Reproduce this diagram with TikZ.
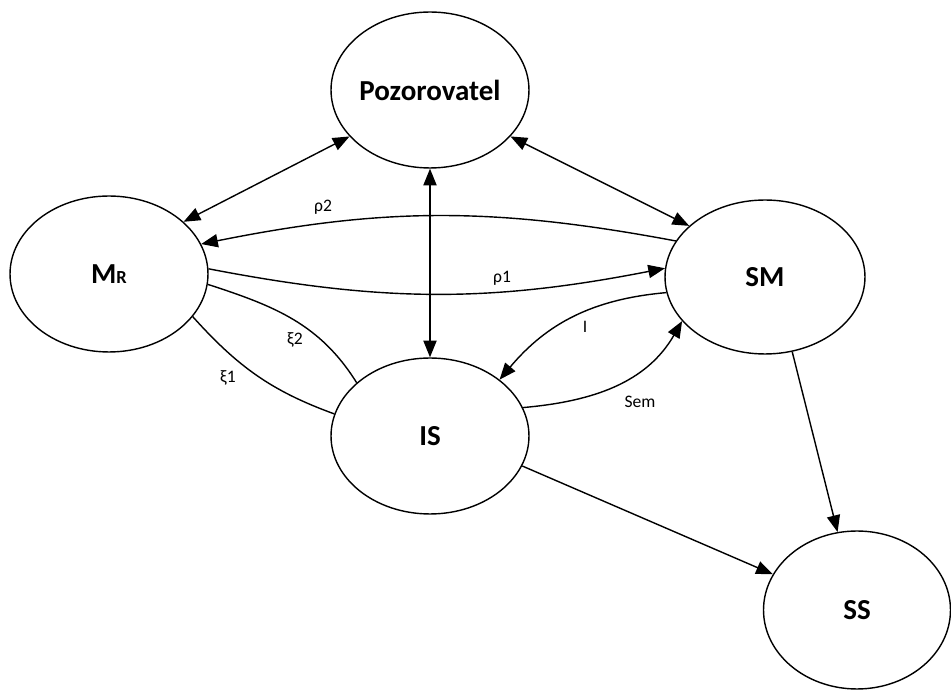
\documentclass[tikz,border=0pt]{standalone}
\usepackage{fontspec}
\setmainfont{Carlito}
\usetikzlibrary{arrows.meta, shapes.geometric}
\tikzset{
  state/.style={draw, ellipse, line width=0.8pt, inner sep=0pt,
    minimum width=3.96cm, minimum height=3.12cm},
  statetext/.style={font=\bfseries\fontsize{16.5}{20}\selectfont},
  link/.style={line width=0.8pt},
  lbl/.style={font=\fontsize{10}{12}\selectfont, inner sep=1pt}
}

\begin{document}
\begin{tikzpicture}[x=0.02cm, y=0.02cm, >={Triangle[length=9.5pt, width=7.5pt]}]
  % Bounding box fixe.
  \useasboundingbox (0,0) rectangle (951,690);

  % States.
  \node[state, label={[statetext]center:Pozorovatel}] (poz) at (430,600) {};
  \node[state, label={[statetext]center:M{\fontsize{10.5}{12}\selectfont R}}] (mr) at (109,416) {};
  \node[state, minimum width=4cm, minimum height=3.08cm,
        label={[statetext]center:SM}] (sm) at (765,413) {};
  \node[state, label={[statetext]center:IS}] (is) at (430,254) {};
  \node[state, minimum width=3.74cm, minimum height=3.16cm,
        label={[statetext]center:SS}] (ss) at (857,80) {};

  % Observer links.
  \draw[link, <->] (poz.210) -- (mr.35);
  \draw[link, <->] (poz.330) -- (sm.146);
  \draw[link, <->] (poz.south) -- (is.north);

  % Relations between MR and SM.
  \draw[link, ->] (sm.158) to[bend right=11] (mr.18);
  \draw[link, ->] (mr.3) to[bend right=11] (sm.175);

  % IS and SM.
  \draw[link, ->] (sm.189) to[out=185, in=50] (is.39);
  \draw[link, ->] (is.17) to[out=5, in=240] (sm.208);

  % MR and IS.
  \draw[link] (mr.354) to[out=-18, in=122] (is.144);
  \draw[link] (mr.333) to[out=-48, in=160] (is.167);

  % Towards SS.
  \draw[link, ->] (sm.290) -- (ss.104);
  \draw[link, ->] (is.342) -- (ss.157);

  % Edge labels.
  \node[lbl] (lrho2) at (323,483) {ρ2};
  \node[lbl] (lrho1) at (502,412) {ρ1};
  \node[lbl] (li) at (585,363) {I};
  \node[lbl] (lsem) at (640,288) {Sem};
  \node[lbl] (lxi2) at (295,350) {ξ2};
  \node[lbl] (lxi1) at (228,312) {ξ1};
\end{tikzpicture}
\end{document}
